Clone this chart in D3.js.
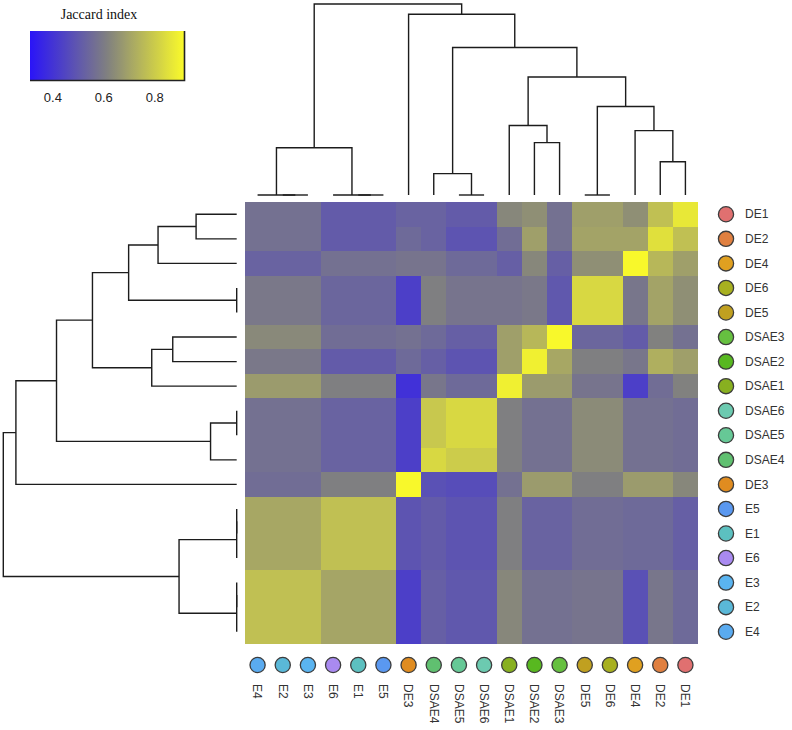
<!DOCTYPE html>
<html><head><meta charset="utf-8">
<script src="https://cdn.jsdelivr.net/npm/d3@7"></script>
<style>body{margin:0;background:#fff} svg{display:block}</style>
</head><body>
<svg id="chart" width="792" height="730"></svg>
<script>
// ---------- data ----------
const colLabels = ["E4","E2","E3","E6","E1","E5","DE3","DSAE4","DSAE5","DSAE6","DSAE1","DSAE2","DSAE3","DE5","DE6","DE4","DE2","DE1"];
const rowLabels = ["DE1","DE2","DE4","DE6","DE5","DSAE3","DSAE2","DSAE1","DSAE6","DSAE5","DSAE4","DE3","E5","E1","E6","E3","E2","E4"];
const sampleNames  = ["DE1","DE2","DE3","DE4","DE5","DE6","DSAE1","DSAE2","DSAE3","DSAE4","DSAE5","DSAE6","E1","E2","E3","E4","E5","E6"];
const sampleColors = ["#e07070","#e08040","#e08c20","#e0a020","#c0a020","#a8b020","#88b020","#58b820","#66c040","#60c070","#66c896","#6ccab0","#5cc0c0","#5ab8d8","#5ab4f0","#5aabf0","#5a98f0","#a98af0"];

// Jaccard index, rows in rowLabels order, columns in colLabels order
const jaccard = [
  [0.57,0.57,0.57,0.51,0.51,0.51,0.53,0.53,0.51,0.51,0.63,0.65,0.57,0.69,0.69,0.65,0.77,0.87],
  [0.57,0.57,0.57,0.51,0.51,0.51,0.55,0.53,0.49,0.49,0.56,0.69,0.57,0.70,0.70,0.70,0.85,0.77],
  [0.53,0.53,0.53,0.57,0.57,0.57,0.58,0.58,0.55,0.55,0.52,0.63,0.52,0.65,0.65,0.91,0.75,0.69],
  [0.59,0.59,0.59,0.54,0.54,0.54,0.43,0.61,0.58,0.58,0.58,0.59,0.50,0.83,0.83,0.585,0.70,0.65],
  [0.59,0.59,0.59,0.54,0.54,0.54,0.43,0.61,0.58,0.58,0.58,0.59,0.50,0.83,0.83,0.585,0.70,0.65],
  [0.635,0.635,0.635,0.56,0.56,0.56,0.57,0.55,0.52,0.52,0.69,0.75,0.91,0.54,0.54,0.51,0.615,0.57],
  [0.59,0.59,0.59,0.51,0.51,0.51,0.55,0.52,0.49,0.49,0.69,0.89,0.71,0.61,0.61,0.585,0.73,0.69],
  [0.68,0.68,0.68,0.61,0.61,0.61,0.39,0.585,0.55,0.55,0.89,0.68,0.68,0.58,0.58,0.43,0.56,0.615],
  [0.57,0.57,0.57,0.53,0.53,0.53,0.43,0.79,0.83,0.83,0.61,0.57,0.57,0.64,0.64,0.57,0.57,0.56],
  [0.57,0.57,0.57,0.53,0.53,0.53,0.43,0.79,0.83,0.83,0.61,0.57,0.57,0.64,0.64,0.57,0.57,0.56],
  [0.57,0.57,0.57,0.53,0.53,0.53,0.43,0.83,0.80,0.80,0.61,0.57,0.57,0.64,0.64,0.57,0.57,0.56],
  [0.56,0.56,0.56,0.61,0.61,0.61,0.91,0.48,0.47,0.47,0.57,0.68,0.68,0.61,0.61,0.68,0.68,0.63],
  [0.71,0.71,0.71,0.77,0.77,0.77,0.49,0.51,0.49,0.49,0.61,0.53,0.53,0.56,0.56,0.55,0.55,0.52],
  [0.71,0.71,0.71,0.77,0.77,0.77,0.49,0.51,0.49,0.49,0.61,0.53,0.53,0.56,0.56,0.55,0.55,0.52],
  [0.71,0.71,0.71,0.77,0.77,0.77,0.49,0.51,0.49,0.49,0.61,0.53,0.53,0.56,0.56,0.55,0.55,0.52],
  [0.77,0.77,0.77,0.705,0.705,0.705,0.43,0.52,0.50,0.50,0.63,0.57,0.57,0.58,0.58,0.48,0.585,0.55],
  [0.77,0.77,0.77,0.705,0.705,0.705,0.43,0.52,0.50,0.50,0.63,0.57,0.57,0.58,0.58,0.48,0.585,0.55],
  [0.77,0.77,0.77,0.705,0.705,0.705,0.43,0.52,0.50,0.50,0.63,0.57,0.57,0.58,0.58,0.48,0.585,0.55]
];

// hierarchical clustering merges: [left, right, height]; strings = leaves, numbers = earlier merge (1-based)
const dendroMerges = [
  ["E2","E3",0],
  ["E4",1,0],
  ["E1","E5",0],
  ["E6",3,0],
  [2,4,0.247],
  ["DSAE5","DSAE6",0],
  ["DSAE4",6,0.112],
  ["DSAE2","DSAE3",0.274],
  ["DSAE1",8,0.364],
  ["DE5","DE6",0],
  ["DE2","DE1",0.174],
  ["DE4",11,0.337],
  [10,12,0.463],
  [9,13,0.618],
  [7,14,0.772],
  ["DE3",15,0.946],
  [5,16,1.0]
];

const legendTicks = [0.4, 0.6, 0.8];
const legendTitle = "Jaccard index";
const colorDomain = [0.31, 0.6125, 0.915];
const colorRange  = ["#2a14f8", "#808080", "#fafa2a"];

// ---------- drawing ----------
const svg = d3.select("#chart");
const hm = {x0: 245, x1: 698, y0: 202, y1: 644};

const x = d3.scaleBand().domain(colLabels).range([hm.x0, hm.x1]);
const y = d3.scaleBand().domain(rowLabels).range([hm.y0, hm.y1]);
const color = d3.scaleLinear().domain(colorDomain).range(colorRange).clamp(true);
const sampleColor = d3.scaleOrdinal().domain(sampleNames).range(sampleColors);

// heatmap cells
const cells = [];
rowLabels.forEach((r, i) => colLabels.forEach((c, j) => cells.push({r, c, v: jaccard[i][j], last: i === rowLabels.length - 1, lastC: j === colLabels.length - 1})));
svg.append("g").attr("shape-rendering", "crispEdges").selectAll("rect").data(cells).join("rect")
  .attr("x", d => x(d.c)).attr("y", d => y(d.r))
  .attr("width", d => x.bandwidth() + (d.lastC ? 0 : 1)).attr("height", d => y.bandwidth() + (d.last ? 0 : 1))
  .attr("fill", d => color(d.v));

// dendrogram builder
function buildNodes(leafPos) {
  const nodes = [];
  const get = ref => typeof ref === "string" ? {p: leafPos(ref), h: 0} : nodes[ref - 1];
  dendroMerges.forEach(([a, b, h]) => {
    const A = get(a), B = get(b);
    nodes.push({p: (A.p + B.p) / 2, h, A, B});
  });
  return nodes;
}
const lineStyle = g => g.attr("fill", "none").attr("stroke", "#1c1c1c").attr("stroke-width", 1.4);

// top dendrogram
const hTop = d3.scaleLinear().domain([0, 1]).range([195, 4]);
const topNodes = buildNodes(l => x(l) + x.bandwidth() / 2);
svg.append("g").call(lineStyle).selectAll("path").data(topNodes).join("path")
  .attr("d", n => `M${n.A.p},${hTop(n.A.h)}V${hTop(n.h)}H${n.B.p}V${hTop(n.B.h)}`);

// left dendrogram
const hLeft = d3.scaleLinear().domain([0, 1]).range([236.7, 3.3]);
const leftNodes = buildNodes(l => y(l) + y.bandwidth() / 2);
svg.append("g").call(lineStyle).selectAll("path").data(leftNodes).join("path")
  .attr("d", n => `M${hLeft(n.A.h)},${n.A.p}H${hLeft(n.h)}V${n.B.p}H${hLeft(n.B.h)}`);

// right labels
const rg = svg.append("g");
rg.selectAll("circle").data(rowLabels).join("circle")
  .attr("cx", 726).attr("cy", d => y(d) + y.bandwidth() / 2).attr("r", 7.6)
  .attr("fill", d => sampleColor(d)).attr("stroke", "#3c3c3c").attr("stroke-width", 1.3);
rg.selectAll("text").data(rowLabels).join("text")
  .attr("x", 745).attr("y", d => y(d) + y.bandwidth() / 2).attr("dy", "0.35em")
  .attr("font-family", "Liberation Sans, Arial, sans-serif").attr("font-size", 12).attr("fill", "#333")
  .text(d => d);

// bottom labels
const bg = svg.append("g");
bg.selectAll("circle").data(colLabels).join("circle")
  .attr("cx", d => x(d) + x.bandwidth() / 2).attr("cy", 665).attr("r", 7.6)
  .attr("fill", d => sampleColor(d)).attr("stroke", "#3c3c3c").attr("stroke-width", 1.3);
bg.selectAll("text").data(colLabels).join("text")
  .attr("transform", d => `translate(${x(d) + x.bandwidth() / 2},684) rotate(90)`)
  .attr("dy", "0.35em")
  .attr("font-family", "Liberation Sans, Arial, sans-serif").attr("font-size", 12).attr("fill", "#333")
  .text(d => d);

// legend
const lx = d3.scaleLinear().domain([colorDomain[0], colorDomain[2]]).range([30, 184]);
const defs = svg.append("defs");
const grad = defs.append("linearGradient").attr("id", "lg").attr("x1", "0%").attr("x2", "100%");
d3.range(0, 1.0001, 0.05).forEach(t => {
  const v = colorDomain[0] + t * (colorDomain[2] - colorDomain[0]);
  grad.append("stop").attr("offset", (t * 100) + "%").attr("stop-color", color(v));
});
const lg = svg.append("g");
lg.append("rect").attr("x", 30).attr("y", 31).attr("width", 154).attr("height", 49).attr("fill", "url(#lg)");
lg.append("path").attr("d", "M30,80.5H184.5V31").attr("fill", "none").attr("stroke", "#222").attr("stroke-width", 1.6);
lg.append("text").attr("x", 99).attr("y", 19).attr("text-anchor", "middle")
  .attr("font-family", "Liberation Serif, Times New Roman, serif").attr("font-size", 14).attr("fill", "#111")
  .text(legendTitle);
lg.selectAll("text.tick").data(legendTicks).join("text").attr("class", "tick")
  .attr("x", d => lx(d)).attr("y", 102).attr("text-anchor", "middle")
  .attr("font-family", "Liberation Sans, Arial, sans-serif").attr("font-size", 13).attr("fill", "#222")
  .text(d => d3.format(".1f")(d));
</script>
</body></html>
